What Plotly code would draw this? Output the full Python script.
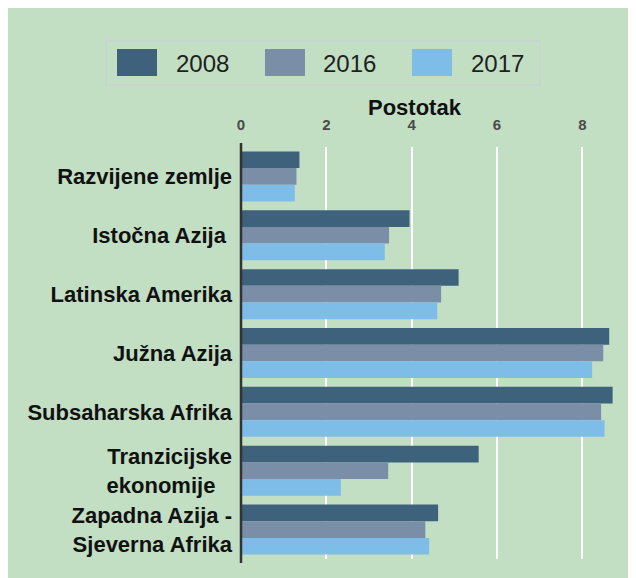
import plotly.graph_objects as go

categories = ["Razvijene zemlje", "Istočna Azija\u00a0", "Latinska Amerika", "Južna Azija",
              "Subsaharska Afrika", "Tranzicijske<br>ekonomije\u00a0\u00a0\u2009", "Zapadna Azija -<br>Sjeverna Afrika"]
years = ["2008", "2016", "2017"]
values_2008 = [1.37, 3.95, 5.10, 8.63, 8.71, 5.57, 4.62]
values_2016 = [1.30, 3.47, 4.69, 8.49, 8.44, 3.45, 4.32]
values_2017 = [1.26, 3.37, 4.60, 8.23, 8.52, 2.34, 4.41]
tick_vals = [0, 2, 4, 6, 8]
tick_text = ["0", "2", "4", "6", "8"]
colors = ["#3e617c", "#7b8ea8", "#7fbde9"]
axis_title = "Postotak"

# page has an 8px body margin; figure coordinates = reference pixels - 8
OFF = 8
W, H = 621, 570
L, R, T, B = 233, 4, 139, 19
PW, PH = W - L - R, H - T - B


def px(x):
    return (x - OFF - L) / PW


def py(y):
    return (H - B - (y - OFF)) / PH


fig = go.Figure()
for name, vals, col in zip(years, [values_2008, values_2016, values_2017], colors):
    fig.add_trace(go.Bar(y=categories, x=vals, name=name, orientation="h",
                         marker=dict(color=col, line=dict(width=0)), showlegend=False))

font_family = "Liberation Sans, Arial, sans-serif"
shapes = []
# legend box
shapes.append(dict(type="rect", xref="paper", yref="paper", x0=px(106), x1=px(540), y0=py(41), y1=py(85),
                   fillcolor="rgba(0,0,0,0)", line=dict(color="#c6d5d0", width=2), layer="below"))
annotations = []
sw_x = [117, 265, 412]
tx_x = [174, 321, 469]
for i, (name, col) in enumerate(zip(years, colors)):
    shapes.append(dict(type="rect", xref="paper", yref="paper", x0=px(sw_x[i]), x1=px(sw_x[i] + 40),
                       y0=py(49), y1=py(76), fillcolor=col, line=dict(width=0)))
    annotations.append(dict(xref="paper", yref="paper", x=px(tx_x[i]), y=py(64), text=name, showarrow=False,
                            xanchor="left", yanchor="middle",
                            font=dict(family=font_family, size=24, color="#1f1f1f")))
# axis line at zero
shapes.append(dict(type="line", xref="paper", yref="paper", x0=0, x1=0, y0=py(563), y1=py(143),
                   line=dict(color="#333333", width=2.5)))
annotations.append(dict(xref="paper", yref="paper", x=px(415), y=py(108), text=axis_title, showarrow=False,
                        xanchor="center", yanchor="middle",
                        font=dict(family=font_family, size=22, color="#111111", weight="bold")))

fig.update_layout(
    width=W, height=H,
    margin=dict(l=L, r=R, t=T, b=B, pad=0),
    paper_bgcolor="#c2dec3", plot_bgcolor="rgba(0,0,0,0)",
    barmode="group", bargap=0.15, bargroupgap=0,
    shapes=shapes, annotations=annotations,
    showlegend=False,
    xaxis=dict(side="top", range=[0, 9], tickvals=tick_vals, ticktext=tick_text,
               showgrid=True, gridcolor="white", gridwidth=2, zeroline=False, showline=False,
               ticks="", ticklabelstandoff=13,
               tickfont=dict(family=font_family, size=15, color="#4a4a4a", weight="bold")),
    yaxis=dict(autorange="reversed", showgrid=False, zeroline=False, showline=False, ticks="",
               ticklabelstandoff=8,
               tickfont=dict(family=font_family, size=22, color="#111111", weight="bold")),
)

fig.write_html("out.html")
